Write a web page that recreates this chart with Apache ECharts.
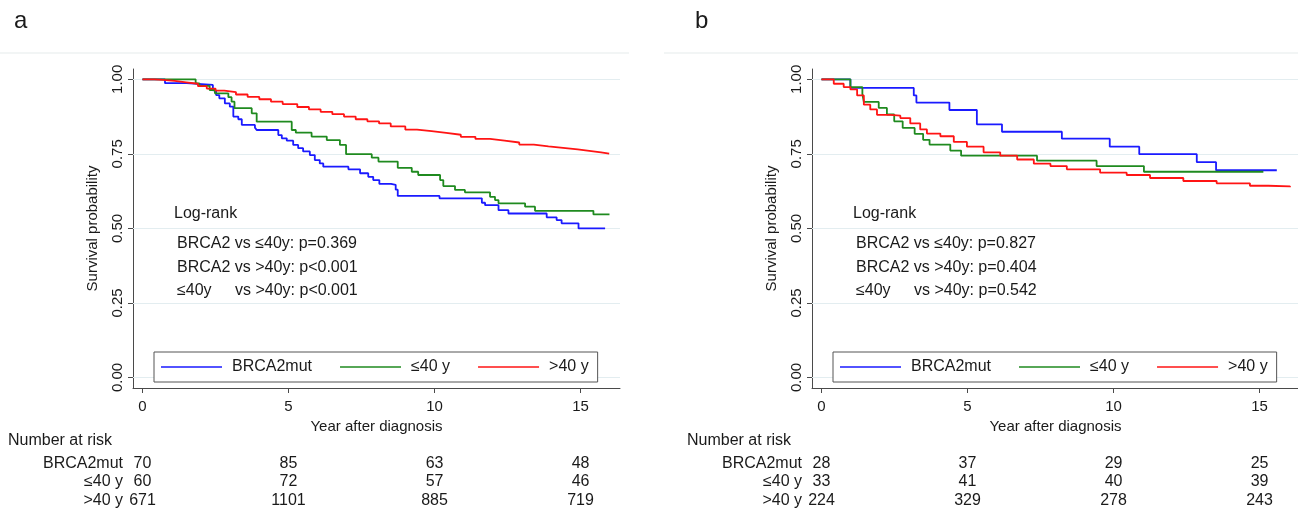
<!DOCTYPE html>
<html>
<head>
<meta charset="UTF-8">
<title>BRCA2 survival</title>
<script src="https://cdn.jsdelivr.net/npm/echarts@6/dist/echarts.min.js"></script>
<style>
  html, body { margin: 0; padding: 0; background: #fff; }
  #chart { width: 1298px; height: 511px; }
</style>
</head>
<body>
<div id="chart"></div>
<script>
// groups and axis ticks
var groups = ['BRCA2mut', '≤40 y', '>40 y'];
var yearTicks = [0, 5, 10, 15];
var probTicks = [0, 0.25, 0.5, 0.75, 1];

// panel a - Kaplan-Meier steps
var aBrcaTime = [0, 0.77, 1.51, 2.41, 2.52, 2.63, 2.82, 2.99, 3.11, 3.28, 3.40, 3.85, 3.91, 4.65, 4.77, 4.94, 5.16, 5.33, 5.50, 5.73, 5.90, 6.07, 6.19, 7.05, 7.45, 7.73, 7.90, 8.11, 8.51, 8.67, 8.74, 10.17, 11.62, 11.73, 12.19, 12.53, 13.84, 14.18, 14.35, 14.93, 15.84];
var aBrcaSurv = [1, 0.987, 0.981, 0.963, 0.947, 0.936, 0.919, 0.908, 0.875, 0.866, 0.847, 0.838, 0.830, 0.813, 0.802, 0.794, 0.780, 0.769, 0.758, 0.746, 0.729, 0.718, 0.707, 0.698, 0.685, 0.673, 0.662, 0.649, 0.646, 0.630, 0.609, 0.601, 0.586, 0.578, 0.561, 0.550, 0.537, 0.528, 0.517, 0.500, 0.500];
var aYoungTime = [0, 1.82, 1.95, 2.30, 2.48, 2.94, 3.05, 3.15, 3.74, 3.91, 5.11, 5.25, 5.79, 6.31, 6.76, 6.97, 7.85, 8.08, 8.74, 9.22, 9.44, 10.19, 10.30, 10.70, 11.04, 11.90, 12.07, 12.19, 13.10, 13.44, 15.44, 15.99];
var aYoungSurv = [1, 0.986, 0.978, 0.964, 0.953, 0.940, 0.925, 0.903, 0.886, 0.858, 0.830, 0.821, 0.808, 0.796, 0.780, 0.749, 0.737, 0.724, 0.703, 0.690, 0.679, 0.662, 0.642, 0.629, 0.621, 0.606, 0.595, 0.584, 0.573, 0.559, 0.547, 0.547];
var aOldTime = [0, 0.4, 0.7, 1.1, 1.5, 1.9, 2.2, 2.5, 2.8, 3.2, 3.6, 4.0, 4.4, 4.8, 5.3, 5.7, 6.1, 6.5, 6.9, 7.3, 7.7, 8.1, 8.5, 9.0, 9.4, 9.9, 10.4, 10.9, 11.4, 11.9, 12.4, 12.9, 13.4, 13.9, 14.4, 14.9, 15.3, 15.7, 15.98];
var aOldSurv = [1, 0.998, 0.995, 0.990, 0.985, 0.977, 0.969, 0.962, 0.957, 0.949, 0.941, 0.933, 0.925, 0.917, 0.907, 0.899, 0.891, 0.883, 0.875, 0.866, 0.859, 0.852, 0.842, 0.831, 0.826, 0.820, 0.814, 0.807, 0.800, 0.794, 0.788, 0.781, 0.775, 0.770, 0.765, 0.760, 0.755, 0.751, 0.749];

// panel b
var bBrcaTime = [0, 0.99, 3.16, 3.25, 4.38, 5.32, 6.18, 8.23, 9.87, 10.88, 12.85, 13.51, 15.59];
var bBrcaSurv = [1, 0.971, 0.946, 0.922, 0.897, 0.849, 0.824, 0.801, 0.774, 0.749, 0.722, 0.695, 0.695];
var bYoungTime = [0, 0.99, 1.40, 1.45, 1.96, 2.24, 2.49, 2.78, 3.19, 3.48, 3.70, 4.41, 4.78, 7.38, 9.42, 11.04, 15.13];
var bYoungSurv = [1, 0.974, 0.950, 0.924, 0.904, 0.882, 0.859, 0.837, 0.817, 0.797, 0.781, 0.761, 0.744, 0.727, 0.709, 0.690, 0.690];
var bOldTime = [0, 0.42, 0.76, 0.99, 1.22, 1.45, 1.67, 1.90, 2.36, 2.70, 3.04, 3.38, 3.61, 4.07, 4.53, 4.98, 5.55, 6.12, 6.70, 7.27, 7.84, 8.40, 9.54, 10.45, 11.25, 12.39, 13.53, 14.67, 15.30, 16.04];
var bOldSurv = [1, 0.985, 0.974, 0.966, 0.946, 0.915, 0.899, 0.881, 0.878, 0.870, 0.852, 0.832, 0.818, 0.809, 0.790, 0.774, 0.755, 0.744, 0.731, 0.717, 0.709, 0.698, 0.687, 0.679, 0.669, 0.659, 0.651, 0.643, 0.641, 0.638];

// numbers at risk at 0, 5, 10, 15 years
var aRiskBrca = [70, 85, 63, 48];
var aRiskYoung = [60, 72, 57, 46];
var aRiskOld = [671, 1101, 885, 719];
var bRiskBrca = [28, 37, 29, 25];
var bRiskYoung = [33, 41, 40, 39];
var bRiskOld = [224, 329, 278, 243];

var aPvals = ['BRCA2 vs ≤40y: p=0.369', 'BRCA2 vs >40y: p<0.001', 'vs >40y: p<0.001'];
var bPvals = ['BRCA2 vs ≤40y: p=0.827', 'BRCA2 vs >40y: p=0.404', 'vs >40y: p=0.542'];

var FONT = '"Liberation Sans", Arial, sans-serif';
var TXT = '#1a1a1a';
var AXIS = '#4a4a4a';
var lineColors = ['#1a1aff', '#1f8a1f', '#ff1414'];

function zip(t, s) {
  var out = [];
  for (var i = 0; i < t.length; i++) out.push([t[i], s[i]]);
  return out;
}

var chart = echarts.init(document.getElementById('chart'));

var grids = [], xAxes = [], yAxes = [], series = [], legends = [], graphics = [];

function addPanel(dx, curves, risk, pvals) {
  var gi = grids.length;
  var xmin = -0.325, xmax = 16.35;
  // survival plot
  grids.push({ left: 133 + dx, top: 69, width: 487, height: 319, outerBoundsMode: 'none' });
  xAxes.push({
    gridIndex: gi, type: 'value', min: xmin, max: xmax,
    name: 'Year after diagnosis', nameLocation: 'middle', nameGap: 27,
    nameTextStyle: { fontSize: 15, color: TXT, fontFamily: FONT },
    axisLine: { show: true, onZero: false, lineStyle: { color: AXIS, width: 1 } },
    axisTick: { show: true, length: 5, customValues: yearTicks, lineStyle: { color: AXIS } },
    axisLabel: { customValues: yearTicks, margin: 11, fontSize: 15, color: TXT, fontFamily: FONT },
    splitLine: { show: false }
  });
  yAxes.push({
    gridIndex: gi, type: 'value', min: -0.0352, max: 1.0345,
    name: 'Survival probability', nameLocation: 'middle', nameGap: 33,
    nameTextStyle: { fontSize: 15, color: TXT, fontFamily: FONT },
    axisLine: { show: true, onZero: false, lineStyle: { color: AXIS, width: 1 } },
    axisTick: { show: true, length: 5, customValues: probTicks, lineStyle: { color: AXIS } },
    axisLabel: {
      customValues: probTicks, rotate: 90, margin: 8, fontSize: 15, color: TXT, fontFamily: FONT,
      formatter: function (v) { return v.toFixed(2); }
    },
    splitLine: { show: false }
  });
  // light horizontal grid lines at the probability ticks, kept under the curves
  series.push({
    type: 'line', xAxisIndex: gi, yAxisIndex: gi, data: [], silent: true, z: 1,
    markLine: {
      silent: true, symbol: 'none', animation: false, z: 1, label: { show: false },
      lineStyle: { color: '#e3edf0', width: 1, type: 'solid' },
      data: probTicks.map(function (p) { return { yAxis: p }; })
    }
  });
  for (var k = 0; k < 3; k++) {
    series.push({
      name: groups[k], type: 'line', step: 'end', symbol: 'none', showSymbol: false,
      xAxisIndex: gi, yAxisIndex: gi, z: 3 + k,
      lineStyle: { color: lineColors[k], width: 1.8 },
      itemStyle: { color: lineColors[k] },
      data: zip(curves[k][0], curves[k][1])
    });
  }
  legends.push({
    left: 154 + dx, top: 352, orient: 'horizontal',
    icon: 'rect', itemWidth: 61, itemHeight: 1.5, itemGap: 28,
    padding: [6, 9, 6, 7], borderColor: '#555', borderWidth: 1, backgroundColor: '#fff',
    textStyle: { fontSize: 16, color: TXT, fontFamily: FONT, padding: [0, 0, 0, 5], lineHeight: 18 },
    data: groups, selectedMode: false
  });

  // number-at-risk table
  var ti = grids.length;
  grids.push({ left: 133 + dx, top: 454, width: 487, height: 55.5, outerBoundsMode: 'none' });
  xAxes.push({ gridIndex: ti, type: 'value', min: xmin, max: xmax, show: false });
  yAxes.push({
    gridIndex: ti, type: 'category', data: groups, inverse: true,
    axisLine: { show: false }, axisTick: { show: false }, splitLine: { show: false },
    axisLabel: { interval: 0, margin: 10, fontSize: 16, color: TXT, fontFamily: FONT }
  });
  var cells = [];
  for (var r = 0; r < 3; r++) {
    for (var c = 0; c < yearTicks.length; c++) {
      cells.push([yearTicks[c], r, risk[r][c]]);
    }
  }
  series.push({
    type: 'scatter', xAxisIndex: ti, yAxisIndex: ti, symbolSize: 2, silent: true,
    itemStyle: { color: '#fff', opacity: 0 },
    label: {
      show: true, position: 'inside', fontSize: 16, color: TXT, opacity: 1,
      textBorderWidth: 0, fontFamily: FONT,
      formatter: function (p) { return String(p.value[2]); }
    },
    labelLayout: { hideOverlap: false },
    data: cells
  });

  // log-rank annotation and table heading
  var ts = { fontSize: 16, fill: TXT, fontFamily: FONT, verticalAlign: 'middle' };
  function txt(x, y, s) {
    graphics.push({ type: 'text', x: x + dx, y: y, silent: true, style: Object.assign({ text: s }, ts) });
  }
  txt(174, 214, 'Log-rank');
  txt(177, 244, pvals[0]);
  txt(177, 267.5, pvals[1]);
  txt(177, 291, '≤40y');
  txt(235, 291, pvals[2]);
  txt(8, 441, 'Number at risk');
  graphics.push({
    type: 'line', silent: true,
    shape: { x1: dx === 0 ? 0 : 664, y1: 53, x2: dx === 0 ? 629 : 1298, y2: 53 },
    style: { stroke: '#eef2f2', lineWidth: 1.5 }
  });
}

addPanel(0,
  [[aBrcaTime, aBrcaSurv], [aYoungTime, aYoungSurv], [aOldTime, aOldSurv]],
  [aRiskBrca, aRiskYoung, aRiskOld], aPvals);
addPanel(679,
  [[bBrcaTime, bBrcaSurv], [bYoungTime, bYoungSurv], [bOldTime, bOldSurv]],
  [bRiskBrca, bRiskYoung, bRiskOld], bPvals);

var option = {
  animation: false,
  backgroundColor: '#fff',
  title: [
    { text: 'a', left: 9, top: 4, textStyle: { fontSize: 24, fontWeight: 'normal', color: TXT, fontFamily: '"Liberation Sans Narrow", "Liberation Sans", sans-serif' } },
    { text: 'b', left: 690, top: 4, textStyle: { fontSize: 24, fontWeight: 'normal', color: TXT, fontFamily: '"Liberation Sans Narrow", "Liberation Sans", sans-serif' } }
  ],
  grid: grids,
  xAxis: xAxes,
  yAxis: yAxes,
  legend: legends,
  series: series,
  graphic: graphics
};

chart.setOption(option);
</script>
</body>
</html>
